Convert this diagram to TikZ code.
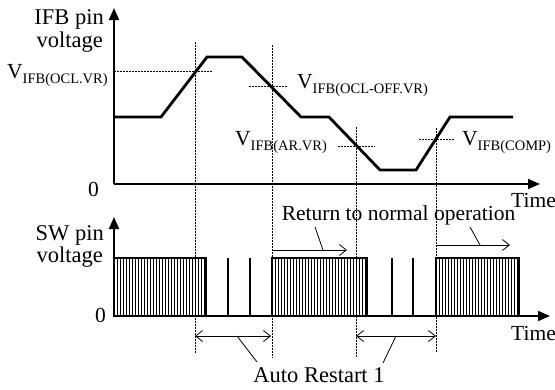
\documentclass[tikz,border=0pt]{standalone}
\usepackage{fontspec}
\setmainfont{Liberation Serif}
\usetikzlibrary{arrows.meta}
\newcommand\vlab[1]{V\raisebox{-5pt}{\fontsize{14.5}{16}\selectfont #1}}
\begin{document}
\begin{tikzpicture}[x=1pt,y=-1pt,
  axis/.style={line width=1.8pt,-{Triangle[length=12pt,width=10pt]}},
  wave/.style={line width=2.8pt},
  guide/.style={line width=0.7pt,dash pattern=on 1.5pt off 1.5pt},
  blockline/.style={line width=1.8pt},
  pulse/.style={line width=1.5pt},
  hatch/.style={line width=0.6pt},
  pointer/.style={line width=0.8pt,-{Straight Barb[length=7pt,width=11pt]}},
  both/.style={line width=0.8pt,{Straight Barb[length=7pt,width=11pt]}-{Straight Barb[length=7pt,width=11pt]}},
  leader/.style={line width=0.8pt},
  lbl/.style={font=\fontsize{21.5}{23}\selectfont, inner sep=0pt},
  ttl/.style={font=\fontsize{22.5}{24}\selectfont, inner sep=0pt},
]
\useasboundingbox (0,0) rectangle (555,389);
% ---------- blocks (bottom) ----------
\draw[blockline] (114,316) rectangle (206,258);
\foreach \x in {117,120,...,204} \draw[hatch] (\x,258) -- (\x,316);
\draw[blockline] (272,316) rectangle (367,258);
\foreach \x in {275,278,...,365} \draw[hatch] (\x,258) -- (\x,316);
\draw[blockline] (436,316) rectangle (519,258);
\foreach \x in {439,442,...,517} \draw[hatch] (\x,258) -- (\x,316);
\foreach \x in {228,250,392,413} \draw[pulse] (\x,258) -- (\x,316);
% ---------- axes ----------
\coordinate (o1) at (114,184);
\coordinate (ytop1) at (114,8);
\coordinate (xend1) at (540,184);
\coordinate (o2) at (114,316);
\coordinate (ytop2) at (114,217);
\coordinate (xend2) at (550,316);
\draw[axis] (o1) -- (ytop1);
\draw[axis] (o1) -- (xend1);
\draw[axis] (o2) -- (ytop2);
\draw[axis] (o2) -- (xend2);
% ---------- waveform ----------
\draw[wave] (114,117) -- (161,117) -- (207,57) -- (242,57) -- (301,117) -- (329,117)
  -- (380,170) -- (416,170) -- (450,117) -- (513,117);
% ---------- guides ----------
\draw[guide] (114,71) -- (213,71);
\draw[guide] (249,86) -- (288,86);
\draw[guide] (338,146) -- (375,146);
\draw[guide] (419,139) -- (455,139);
\draw[guide] (195,42) -- (195,353);
\draw[guide] (272,45) -- (272,358);
\draw[guide] (356,127) -- (356,357);
\draw[guide] (436,128) -- (436,353);
% ---------- labels ----------
\node[ttl, anchor=base east] (ifbA) at (104,24) {IFB pin};
\node[ttl, anchor=base east] (ifbB) at (103,47) {voltage};
\node[ttl, anchor=base east] (swA) at (104,240) {SW pin};
\node[ttl, anchor=base east] (swB) at (103,262) {voltage};
\node[lbl, anchor=base east] (zero1) at (99,196) {0};
\node[lbl, anchor=base east] (zero2) at (106,322) {0};
\node[lbl, anchor=base west] (time1) at (511,207) {Time};
\node[lbl, anchor=base west] (time2) at (511,340) {Time};
\node[lbl, anchor=base west] (vocl) at (7,78) {\vlab{IFB(OCL.VR)}};
\node[lbl, anchor=base west] (voff) at (297,88) {\vlab{IFB(OCL-OFF.VR)}};
\node[lbl, anchor=base west] (var) at (235,145) {\vlab{IFB(AR.VR)}};
\node[lbl, anchor=base west] (vcomp) at (462,145) {\vlab{IFB(COMP)}};
\node[lbl, anchor=base] (ret) at (398.5,220) {Return to normal operation};
\node[ttl, anchor=base] (auto) at (319,382) {Auto Restart 1};
% ---------- return arrows ----------
\coordinate (r1a) at (272,250);
\coordinate (r1b) at (347,250);
\coordinate (r1m) at (323,250);
\coordinate (r1t) at (315,227);
\coordinate (r2a) at (436,245);
\coordinate (r2b) at (510,245);
\coordinate (r2m) at (480,245);
\coordinate (r2t) at (470,227);
\draw[pointer] (r1a) -- (r1b);
\draw[leader] (r1m) -- (r1t);
\draw[pointer] (r2a) -- (r2b);
\draw[leader] (r2m) -- (r2t);
% ---------- auto restart arrows ----------
\coordinate (a1a) at (195,336);
\coordinate (a1b) at (271,336);
\coordinate (a1m) at (237,336);
\coordinate (a1t) at (257,362);
\coordinate (a2a) at (356,336);
\coordinate (a2b) at (436,336);
\coordinate (a2m) at (396,336);
\coordinate (a2t) at (383,363);
\draw[both] (a1a) -- (a1b);
\draw[leader] (a1m) -- (a1t);
\draw[both] (a2a) -- (a2b);
\draw[leader] (a2m) -- (a2t);
\end{tikzpicture}
\end{document}
